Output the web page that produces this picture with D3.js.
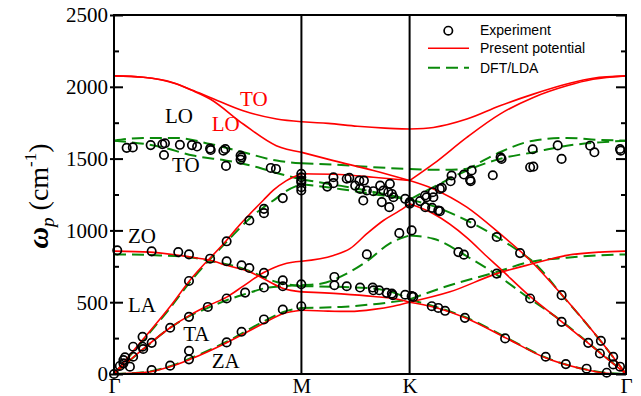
<!DOCTYPE html>
<html>
<head>
<meta charset="utf-8">
<script src="https://cdn.jsdelivr.net/npm/d3@7"></script>
<style>
  body { margin: 0; background: #fff; }
  svg { display: block; }
</style>
</head>
<body>
<svg id="chart" width="641" height="396"></svg>
<script>
// high-symmetry points along the path (units of 2pi/a)
var kPoints = [0, 0.5774, 0.9107, 1.5774];
var kLabels = ["Γ", "M", "K", "Γ"];
var majorTicks = [0, 500, 1000, 1500, 2000, 2500];
var minorTicks = [250, 750, 1250, 1750, 2250];

// Present potential (red solid), [q, omega]
var presentZA = [[0,0],[0.111,16],[0.173,51],[0.234,102],[0.347,218],[0.460,352],[0.522,421],[0.5774,444],
  [0.660,438],[0.727,436],[0.800,450],[0.860,472],[0.9107,500],
  [0.984,467],[1.087,387],[1.210,248],[1.333,109],[1.436,39],[1.518,5],[1.5774,0]];
var presentZO = [[0,856],[0.111,849],[0.234,815],[0.296,792],[0.347,757],[0.419,710],[0.470,653],[0.522,595],[0.5774,572],
  [0.700,558],[0.800,540],[0.870,522],[0.9107,500],
  [1.035,572],[1.179,699],[1.292,769],[1.395,826],[1.497,849],[1.5774,856]];
var presentTA = [[0,0],[0.090,175],[0.173,322],[0.234,410],[0.289,475],[0.347,535],[0.398,612],[0.460,705],[0.522,765],[0.5774,785],
  [0.676,826],[0.727,873],[0.779,977],[0.830,1069],[0.881,1139],[0.9107,1185],
  [0.984,1116],[1.087,950],[1.148,820],[1.189,735],[1.282,540],[1.379,365],[1.461,215],[1.538,72],[1.5774,0]];
var presentLA = [[0,0],[0.090,243],[0.173,470],[0.234,653],[0.347,931],[0.388,1040],[0.419,1115],[0.460,1210],[0.491,1280],[0.530,1345],[0.5774,1394],
  [0.696,1389],[0.799,1370],[0.9107,1347],
  [0.984,1289],[1.087,1162],[1.189,977],[1.282,792],[1.379,553],[1.497,236],[1.5774,0]];
var presentLO = [[0,2076],[0.090,2066],[0.180,2030],[0.240,1975],[0.296,1915],[0.398,1741],[0.500,1590],[0.5774,1544],
  [0.676,1486],[0.799,1417],[0.9107,1347],
  [0.984,1463],[1.087,1648],[1.189,1810],[1.292,1926],[1.395,2007],[1.476,2052],[1.5774,2076]];
var presentTO = [[0,2076],[0.090,2066],[0.193,2019],[0.240,1978],[0.296,1926],[0.398,1833],[0.501,1776],[0.5774,1757],
  [0.660,1745],[0.750,1725],[0.835,1712],[0.9107,1706],
  [0.984,1717],[1.087,1775],[1.189,1868],[1.292,1949],[1.395,2019],[1.476,2060],[1.5774,2076]];

// DFT/LDA (green dashed)
var dftZA = [[0,0],[0.111,18],[0.173,55],[0.234,108],[0.347,225],[0.460,365],[0.522,432],[0.5774,460],
  [0.700,467],[0.800,486],[0.9107,518],
  [0.984,472],[1.087,392],[1.210,252],[1.333,112],[1.436,40],[1.518,8],[1.5774,0]];
var dftZO = [[0,833],[0.142,826],[0.244,810],[0.296,787],[0.398,734],[0.501,641],[0.5774,611],
  [0.676,608],[0.799,595],[0.870,560],[0.9107,520],
  [1.035,618],[1.179,710],[1.280,780],[1.395,810],[1.497,826],[1.5774,833]];
var dftTA = [[0,0],[0.090,172],[0.173,322],[0.234,405],[0.289,460],[0.347,514],[0.409,560],[0.460,595],[0.520,611],[0.5774,618],
  [0.640,630],[0.700,680],[0.779,785],[0.850,910],[0.9107,965],
  [0.984,942],[1.087,820],[1.189,676],[1.271,540],[1.379,368],[1.461,217],[1.538,74],[1.5774,0]];
var dftLA = [[0,0],[0.090,235],[0.173,460],[0.234,640],[0.347,920],[0.419,1085],[0.460,1160],[0.501,1225],[0.522,1262],[0.5774,1322],
  [0.700,1287],[0.800,1252],[0.9107,1215],
  [0.984,1169],[1.087,1069],[1.189,942],[1.251,849],[1.292,780],[1.379,553],[1.497,236],[1.5774,0]];
var dftLO = [[0,1625],[0.142,1583],[0.244,1521],[0.347,1486],[0.450,1435],[0.501,1400],[0.5774,1355],
  [0.700,1310],[0.800,1268],[0.9107,1215],
  [0.984,1301],[1.087,1417],[1.189,1498],[1.292,1544],[1.395,1590],[1.497,1613],[1.5774,1625]];
var dftTO = [[0,1625],[0.090,1644],[0.193,1644],[0.296,1602],[0.398,1544],[0.501,1486],[0.5774,1467],
  [0.700,1455],[0.800,1440],[0.9107,1428],
  [1.000,1422],[1.060,1425],[1.087,1430],[1.140,1490],[1.189,1544],[1.292,1625],[1.395,1644],[1.497,1630],[1.5774,1625]];

// Experiment (open circles)
var experiment = [
  [0,0],[0.018,56],[0.029,74],[0.029,97],[0.034,116],[0.049,51],[0.059,120],[0.059,190],[0.088,190],[0.090,174],[0.088,259],[0.116,217],
  [0.116,28],[0.173,58],[0.231,102],[0.231,162],[0.347,220],[0.393,294],[0.462,380],[0.520,449],[0.577,472],
  [0.173,322],[0.231,398],[0.289,467],[0.347,526],[0.404,567],[0.462,602],
  [0.010,861],[0.116,854],[0.198,849],[0.231,833],[0.296,803],[0.347,785],[0.393,757],[0.417,738],[0.462,704],[0.520,653],[0.520,611],[0.577,625],
  [0.231,648],[0.347,924],[0.417,1069],[0.462,1120],[0.462,1150],[0.520,1225],
  [0.039,1575],[0.058,1578],[0.113,1594],[0.149,1600],[0.157,1607],[0.154,1525],[0.203,1596],[0.240,1594],[0.256,1584],[0.296,1570],
  [0.298,1560],[0.337,1555],[0.343,1567],[0.345,1449],[0.390,1521],[0.390,1493],[0.393,1509],[0.483,1435],[0.499,1428],
  [0.577,1394],[0.577,1370],[0.577,1347],[0.577,1336],[0.577,1301],[0.577,1278],
  [0.657,1305],[0.676,1370],[0.676,1329],[0.717,1360],[0.725,1366],[0.743,1312],[0.756,1347],[0.770,1347],[0.758,1289],[0.768,1208],
  [0.779,1278],[0.799,1273],[0.820,1312],[0.830,1278],[0.850,1324],[0.845,1266],[0.856,1254],[0.861,1231],[0.825,1197],[0.848,1162],
  [0.897,1220],[0.911,1197],[0.911,1186],
  [0.679,676],[0.679,618],[0.717,611],[0.758,602],[0.779,833],[0.797,602],[0.799,583],[0.817,583],[0.840,565],[0.856,560],[0.859,549],
  [0.897,552],[0.917,542],[0.879,981],[0.917,1000],
  [0.943,1204],[0.963,1231],[0.982,1266],[0.984,1231],[0.959,1162],[0.980,1157],[0.999,1139],[0.958,1243],[1.004,1289],[1.010,1296],[1.004,1134],
  [1.040,1382],[1.037,1342],[1.078,1389],[1.102,1417],[1.097,1352],[1.099,1342],[1.167,1384],[1.191,1509],[1.194,1498],[1.290,1565],
  [1.282,1440],[1.292,1444],[1.367,1592],[1.379,1498],[1.467,1590],[1.480,1544],[1.559,1567],[1.561,1555],
  [1.100,1051],[1.179,954],[1.251,842],[1.379,549],[1.061,849],[1.078,831],[1.179,699],[1.282,526],
  [0.922,537],[0.979,472],[0.999,460],[1.020,440],[1.081,391],[1.205,248],[1.379,363],[1.461,217],[1.500,231],[1.497,143],
  [1.538,120],[1.538,67],[1.559,51],[1.330,120],[1.392,69],[1.456,37],[1.518,9]
];

var presentBranches = [presentZA, presentZO, presentTA, presentLA, presentLO, presentTO];
var dftBranches = [dftZA, dftZO, dftTA, dftLA, dftLO, dftTO];

var red = "#ff0000",
    green = "#0a8a0a",
    serif = "Liberation Serif, Times New Roman, serif",
    sans = "Liberation Sans, Arial, sans-serif";

var svg = d3.select("#chart");

var x = d3.scaleLinear().domain([kPoints[0], kPoints[3]]).range([114, 626]),
    y = d3.scaleLinear().domain([0, 2500]).range([374, 15]);

// Split a branch at M and K so each segment is smoothed on its own
function segments(pts) {
    var out = [];
    for (var i = 0; i < 3; i++) {
        var a = kPoints[i] - 1e-6, b = kPoints[i + 1] + 1e-6;
        out.push(pts.filter(function (p) { return p[0] >= a && p[0] <= b; }));
    }
    return out;
}

var line = d3.line()
    .x(function (d) { return x(d[0]); })
    .y(function (d) { return y(d[1]); })
    .curve(d3.curveMonotoneX);

// DFT/LDA curves
var gDft = svg.append("g");
dftBranches.forEach(function (b) {
    gDft.selectAll(null).data(segments(b)).enter().append("path")
        .attr("d", line)
        .attr("fill", "none")
        .attr("stroke", green)
        .attr("stroke-width", 2)
        .attr("stroke-dasharray", "12,6");
});

// Present potential curves
var gPres = svg.append("g");
presentBranches.forEach(function (b) {
    gPres.selectAll(null).data(segments(b)).enter().append("path")
        .attr("d", line)
        .attr("fill", "none")
        .attr("stroke", red)
        .attr("stroke-width", 1.6);
});

// Vertical lines at M and K
svg.selectAll("line.sym").data(kPoints.slice(1, 3)).enter().append("line")
    .attr("class", "sym")
    .attr("x1", function (d) { return x(d); })
    .attr("x2", function (d) { return x(d); })
    .attr("y1", y(0))
    .attr("y2", y(2500))
    .attr("stroke", "#000")
    .attr("stroke-width", 2);

// Experimental points
svg.append("g").selectAll("circle").data(experiment).enter().append("circle")
    .attr("cx", function (d) { return x(d[0]); })
    .attr("cy", function (d) { return y(d[1]); })
    .attr("r", 4.2)
    .attr("fill", "none")
    .attr("stroke", "#000")
    .attr("stroke-width", 1.7);

// Axes
function styleAxis(g) {
    g.select(".domain").remove();
    g.attr("font-family", serif).attr("font-size", 21);
    g.selectAll(".tick line").attr("stroke", "#000").attr("stroke-width", 2);
    g.selectAll(".tick text").attr("fill", "#000");
}

svg.append("g")
    .attr("transform", "translate(" + x.range()[0] + ",0)")
    .call(d3.axisLeft(y).tickValues(minorTicks).tickSizeInner(-5).tickSizeOuter(0).tickFormat(""))
    .call(styleAxis);

svg.append("g")
    .attr("transform", "translate(" + x.range()[0] + ",0)")
    .call(d3.axisLeft(y).tickValues(majorTicks).tickSizeInner(-9).tickSizeOuter(0).tickPadding(6).tickFormat(d3.format("d")))
    .call(styleAxis)
    .call(function (g) {
        g.selectAll(".tick line").attr("x1", -4);
        g.selectAll(".tick text").attr("dy", "0.33em");
    });

svg.append("g")
    .attr("transform", "translate(" + x.range()[1] + ",0)")
    .call(d3.axisRight(y).tickValues(minorTicks).tickSizeInner(-5).tickSizeOuter(0).tickFormat(""))
    .call(styleAxis);

svg.append("g")
    .attr("transform", "translate(" + x.range()[1] + ",0)")
    .call(d3.axisRight(y).tickValues(majorTicks).tickSizeInner(-10).tickSizeOuter(0).tickFormat(""))
    .call(styleAxis);

svg.append("g")
    .attr("transform", "translate(0," + y.range()[0] + ")")
    .call(d3.axisBottom(x).tickValues(kPoints).tickSize(0).tickPadding(4)
        .tickFormat(function (d, i) { return kLabels[i]; }))
    .call(styleAxis);

// Frame
svg.append("rect")
    .attr("x", x.range()[0])
    .attr("y", y.range()[1])
    .attr("width", x.range()[1] - x.range()[0])
    .attr("height", y.range()[0] - y.range()[1])
    .attr("fill", "none")
    .attr("stroke", "#000")
    .attr("stroke-width", 2);

// Branch labels
var branchLabels = [
    { t: "LO", q: 0.157, w: 1750, c: "#000" },
    { t: "TO", q: 0.179, w: 1410, c: "#000" },
    { t: "LO", q: 0.301, w: 1694, c: red },
    { t: "TO", q: 0.388, w: 1863, c: red },
    { t: "ZO", q: 0.043, w: 910, c: "#000" },
    { t: "LA", q: 0.043, w: 431, c: "#000" },
    { t: "TA", q: 0.213, w: 229, c: "#000" },
    { t: "ZA", q: 0.301, w: 42, c: "#000" }
];
svg.append("g").selectAll("text").data(branchLabels).enter().append("text")
    .attr("x", function (d) { return x(d.q); })
    .attr("y", function (d) { return y(d.w); })
    .attr("font-family", serif)
    .attr("font-size", 21)
    .attr("fill", function (d) { return d.c; })
    .text(function (d) { return d.t; });

// Y axis title
var title = svg.append("text")
    .attr("transform", "translate(48,196) rotate(-90)")
    .attr("text-anchor", "middle")
    .attr("font-family", serif)
    .attr("fill", "#000");
title.append("tspan").attr("font-size", 30).attr("font-weight", "bold").attr("font-style", "italic").text("ω");
title.append("tspan").attr("font-size", 19).attr("font-style", "italic").attr("dy", 6).text("p");
title.append("tspan").attr("font-size", 28).attr("dy", -6).text(" (cm");
title.append("tspan").attr("font-size", 17).attr("dy", -12).text("-1");
title.append("tspan").attr("font-size", 28).attr("dy", 12).text(")");

// Legend
var legend = svg.append("g").attr("font-family", sans).attr("font-size", 14);
legend.append("circle").attr("cx", 448.3).attr("cy", 30.7).attr("r", 4.2)
    .attr("fill", "none").attr("stroke", "#000").attr("stroke-width", 1.7);
legend.append("line").attr("x1", 428).attr("x2", 469).attr("y1", 48.3).attr("y2", 48.3)
    .attr("stroke", red).attr("stroke-width", 1.6);
legend.append("line").attr("x1", 428).attr("x2", 469).attr("y1", 67.7).attr("y2", 67.7)
    .attr("stroke", green).attr("stroke-width", 2).attr("stroke-dasharray", "12,6");
legend.selectAll("text").data(["Experiment", "Present potential", "DFT/LDA"]).enter().append("text")
    .attr("x", 480)
    .attr("y", function (d, i) { return [35.3, 53, 72.6][i]; })
    .attr("fill", "#000")
    .text(function (d) { return d; });
</script>
</body>
</html>
